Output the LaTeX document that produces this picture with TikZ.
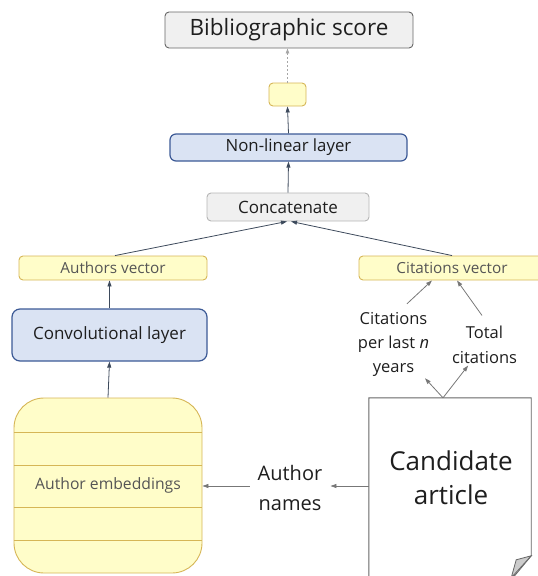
\documentclass[tikz,border=0pt]{standalone}
\usepackage{fontspec}
\setmainfont{Open Sans}
\usetikzlibrary{arrows.meta,calc}
\definecolor{yfill}{HTML}{FFFDC9}
\definecolor{ydraw}{HTML}{D6B656}
\definecolor{bfill}{HTML}{DAE3F3}
\definecolor{bdraw}{HTML}{3C5A96}
\definecolor{gfill}{HTML}{F0F0F0}
\definecolor{gdraw}{HTML}{666666}
\definecolor{gdrawl}{HTML}{B5B5B5}
\definecolor{arrdark}{HTML}{3D4A5C}
\definecolor{arrgray}{HTML}{777777}
\definecolor{txt}{HTML}{1E1E1E}
\definecolor{txtg}{HTML}{555555}
\begin{document}
\begin{tikzpicture}[x=1pt,y=-1pt,
  box/.style={rectangle, rounded corners=4pt, line width=0.9pt, inner sep=0pt, text=txt, align=center},
  ybox/.style={box, fill=yfill, draw=ydraw},
  bbox/.style={box, fill=bfill, draw=bdraw, line width=1.2pt, rounded corners=6pt},
  gbox/.style={box, fill=gfill, draw=gdraw},
  lbl/.style={text=txt, align=center, inner sep=2pt},
  darrow/.style={draw=arrdark, line width=0.8pt, -{Triangle[length=6pt,width=4pt]}},
  larrow/.style={draw=arrgray, line width=0.8pt, -{Triangle[length=6pt,width=4pt]}},
  dasharrow/.style={draw=gray!70, line width=0.8pt, dash pattern=on 2pt off 2pt, -{Triangle[length=5pt,width=3.5pt]}}
]
\useasboundingbox (0,0) rectangle (538,576);
\clip (0,0) rectangle (538,576);

% top chain
\node[gbox, minimum width=248pt, minimum height=36pt, font=\fontsize{22.5}{26}\selectfont] (score) at (289,30) {Bibliographic score};
\node[ybox, minimum width=37pt, minimum height=23pt] (small) at (287.5,94.5) {};
\node[bbox, minimum width=237pt, minimum height=27pt, font=\fontsize{16.8}{19}\selectfont] (nonlin) at (288.5,147.5) {Non-linear layer};
\node[gbox, draw=gdrawl, minimum width=162pt, minimum height=28pt, font=\fontsize{17}{19}\selectfont] (concat) at (288,207) {Concatenate};

% vectors
\node[ybox, text=txtg, minimum width=188pt, minimum height=24pt, font=\fontsize{15.3}{17}\selectfont] (authvec) at (113,268) {Authors vector};
\node[ybox, text=txtg, minimum width=186pt, minimum height=24pt, font=\fontsize{15.3}{17}\selectfont] (citvec) at (452,268) {Citations vector};

% convolution
\node[bbox, rounded corners=8pt, minimum width=195pt, minimum height=52pt, font=\fontsize{17}{20}\selectfont] (conv) at (109.5,335) {Convolutional layer};

% embeddings
\node[box, fill=yfill, draw=ydraw, rounded corners=30pt, text=txtg, minimum width=188pt, minimum height=175pt, font=\fontsize{15.7}{18}\selectfont] (emb) at (108,485.5) {Author embeddings};
\foreach \o in {35,68,110,143}
  \draw[ydraw, line width=0.9pt] ($(emb.north west)+(0,\o)$) -- ($(emb.north east)+(0,\o)$);

% candidate article (document shape)
\node[rectangle, minimum width=162pt, minimum height=176pt, inner sep=0pt] (doc) at (450,486) {};
\draw[gdraw, fill=white, line width=0.9pt] (doc.south west) ++(0,20) -- (doc.north west) -- (doc.north east) -- ($(doc.north east)+(0,158)$) -- ($(doc.north east)+(-20,182)$);
\draw[gdraw, fill=gray!40, line width=0.8pt] ($(doc.north east)+(0,158)$) -- ($(doc.north east)+(-15,162)$) -- ($(doc.north east)+(-20,180)$) -- cycle;
\node[lbl, font=\fontsize{26}{34}\selectfont] (cand) at (451,478) {Candidate\\article};

% labels
\node[lbl, inner sep=8pt, font=\fontsize{20}{30}\selectfont] (names) at (290,488) {Author\\names};
\node[lbl, font=\fontsize{16.5}{24}\selectfont] (cpl) at (393.5,344) {Citations\\per last \textit{n}\\years};
\node[lbl, font=\fontsize{16.5}{25}\selectfont] (tot) at (484.5,344.5) {Total\\citations};

% connectors
\draw[dasharrow] (small.north) -- (small.north |- score.south);
\draw[darrow] (nonlin.north) -- (small.south);
\draw[darrow] (concat.north) -- (nonlin.south);
\draw[darrow] ($(authvec.north)+(2,0)$) -- ($(concat.south)+(-1,0)$);
\draw[darrow] (citvec.north) -- ($(concat.south)+(3,0)$);
\draw[darrow] (conv.north) -- (conv.north |- authvec.south);
\draw[darrow] (emb.north) -- (conv.south);

\draw[larrow] (doc.west) -- (doc.west -| names.east);
\draw[larrow] (names.west |- doc.west) -- (doc.west -| emb.east);
\draw[larrow] ($(doc.north)+(-7,0)$) -- (cpl);
\draw[larrow] ($(doc.north)+(-7,0)$) -- (tot);
\draw[larrow] ($(cpl.north)+(13.5,-6)$) -- ($(citvec.south)+(-20,0)$);
\draw[larrow] ($(tot.north)+(-2.5,-8)$) -- ($(citvec.south)+(5,0)$);
\end{tikzpicture}
\end{document}
